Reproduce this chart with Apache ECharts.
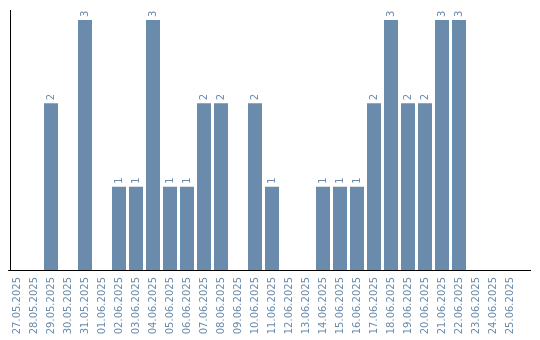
<!DOCTYPE html>
<html><head><meta charset="utf-8">
<script src="https://cdn.jsdelivr.net/npm/echarts@6/dist/echarts.min.js"></script>
<style>html,body{margin:0;padding:0;background:#fff}#c{width:540px;height:340px}</style>
</head><body><div id="c"></div>
<script>
const categories = ["27.05.2025","28.05.2025","29.05.2025","30.05.2025","31.05.2025","01.06.2025","02.06.2025","03.06.2025","04.06.2025","05.06.2025","06.06.2025","07.06.2025","08.06.2025","09.06.2025","10.06.2025","11.06.2025","12.06.2025","13.06.2025","14.06.2025","15.06.2025","16.06.2025","17.06.2025","18.06.2025","19.06.2025","20.06.2025","21.06.2025","22.06.2025","23.06.2025","24.06.2025","25.06.2025"];
const values = [0,0,2,0,3,0,1,1,3,1,1,2,2,0,2,1,0,0,1,1,1,2,3,2,2,3,3,0,0,0];
const color = '#6a8bab';
const chart = echarts.init(document.getElementById('c'), null, {renderer:'canvas'});
chart.setOption({
  animation:false,
  grid:{left:8.5,width:510,top:20,bottom:70,containLabel:false},
  xAxis:{type:'category',data:categories,
    axisLine:{lineStyle:{color:'#000',width:1}},
    axisTick:{show:false},
    axisLabel:{rotate:90,interval:0,color:color,fontFamily:'DejaVu Sans',fontSize:10,margin:7}},
  yAxis:{type:'value',min:0,max:3,offset:-2,
    axisLine:{show:true,lineStyle:{color:'#000',width:1}},
    axisTick:{show:false},axisLabel:{show:false},splitLine:{show:false}},
  series:[{type:'bar',data:values.map(v=>v===0?{value:0,label:{show:false}}:v),barWidth:14,
    itemStyle:{color:color},
    label:{show:true,position:'top',rotate:90,align:'left',verticalAlign:'middle',distance:3,color:color,fontFamily:'DejaVu Sans',fontSize:10}}]
});
const y0 = Math.round(chart.convertToPixel({yAxisIndex:0},0))+0.5;
const yTop = Math.round(chart.convertToPixel({yAxisIndex:0},3));
chart.setOption({graphic:[
  {type:'line',shape:{x1:518.5,y1:y0,x2:531,y2:y0},style:{stroke:'#000',lineWidth:1}},
  {type:'line',shape:{x1:10.5,y1:yTop-10,x2:10.5,y2:yTop},style:{stroke:'#000',lineWidth:1}}
]});
</script></body></html>
